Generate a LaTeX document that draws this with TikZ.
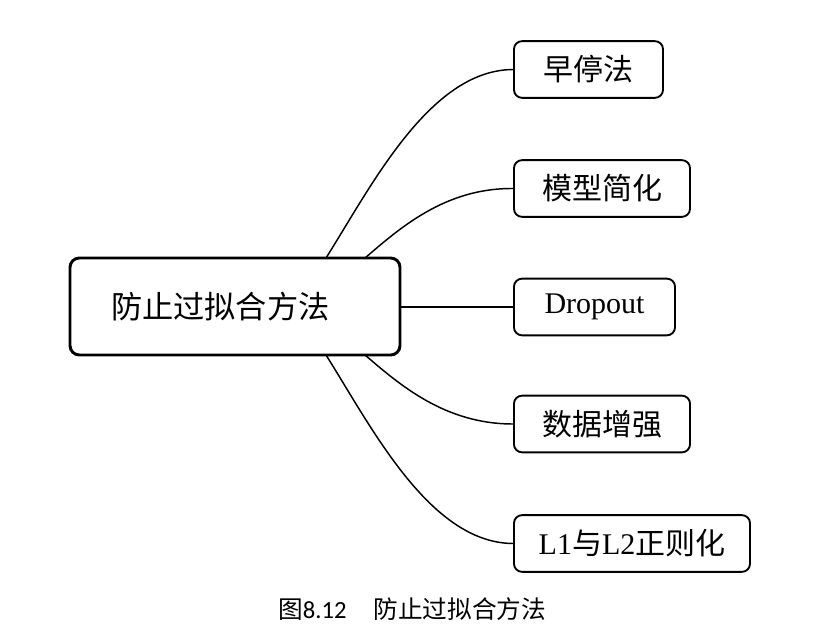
\documentclass[tikz,border=0pt]{standalone}
\usepackage{fontspec}
\setmainfont{Liberation Serif}
\newfontfamily\cjk{Noto Sans CJK SC}
\newfontfamily\capfont{Carlito}
\begin{document}
\begin{tikzpicture}[x=0.75pt,y=-0.75pt,
  mainbox/.style={draw=black,line width=2.2pt,rounded corners=7pt,minimum width=247.5pt,minimum height=72.75pt,inner sep=0pt,font=\fontsize{23.4}{27}\selectfont},
  leaf/.style={draw=black,line width=1.4pt,rounded corners=6pt,minimum height=42.5pt,inner sep=0pt,font=\fontsize{22.5}{26}\selectfont},
  link/.style={line width=1.1pt},
  captext/.style={font=\fontsize{18.5}{22}\selectfont,inner sep=0pt,anchor=west}]
\useasboundingbox (0,0) rectangle (816,638);
\fill[white] (0,0) rectangle (816,638);

\node[mainbox] (main) at (235,306.5) {{\cjk 防止过拟合方法}\kern22pt};

\node[leaf,minimum width=111.75pt] (b1) at (588.5,69.5) {\cjk 早停法};
\node[leaf,minimum width=132pt] (b2) at (602,188.5) {\cjk 模型简化};
\node[leaf,minimum width=120.75pt] (b3) at (594.5,307) {Dropout};
\node[leaf,minimum width=132pt] (b4) at (602,424) {\cjk 数据增强};
\node[leaf,minimum width=177pt] (b5) at (632,543.5) {L1{\cjk 与}L2{\cjk 正则化}};

\coordinate (t1) at (326,258);
\coordinate (t2) at (365,258);
\coordinate (u2) at (365,355);
\coordinate (u1) at (326,355);

\draw[link] (t1) .. controls (372,185) and (430,70) .. (b1.west);
\draw[link] (t2) .. controls (400,228) and (445,188) .. (b2.west);
\draw[link] (main.east |- b3.west) -- (b3.west);
\draw[link] (u2) .. controls (400,385) and (445,424) .. (b4.west);
\draw[link] (u1) .. controls (372,428) and (430,543) .. (b5.west);

\node[captext] (caption) at (278,609) {{\cjk 图}{\capfont 8.12}\hspace{20pt}{\cjk 防止过拟合方法}};
\end{tikzpicture}
\end{document}
